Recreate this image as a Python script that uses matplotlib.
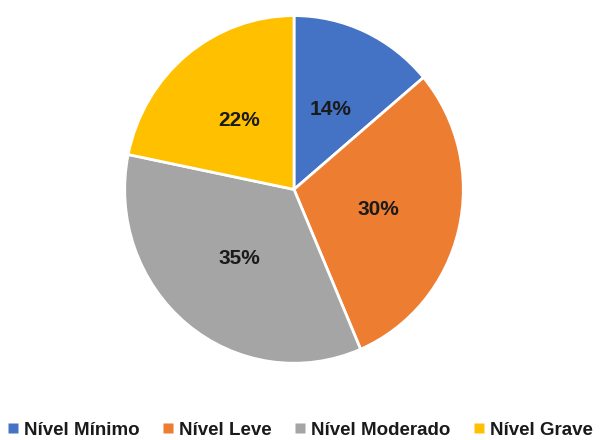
import matplotlib.pyplot as plt
from matplotlib.lines import Line2D

# Dados do gráfico
categorias = ['Nível Mínimo', 'Nível Leve', 'Nível Moderado', 'Nível Grave']
valores = [14, 30, 35, 22]
cores = ['#4472C4', '#ED7D31', '#A5A5A5', '#FFC000']

plt.rcParams['font.family'] = ['Liberation Sans', 'DejaVu Sans']

fig = plt.figure(figsize=(6, 4.4), dpi=100)
ax = fig.add_axes([0.205, 0.1705, 0.57, 0.798])

wedges, textos = ax.pie(valores, colors=cores, startangle=90, counterclock=False,
                        labels=[f'{v}%' for v in valores], labeldistance=0.51,
                        wedgeprops=dict(edgecolor='white', linewidth=2),
                        textprops=dict(fontsize=15, fontweight='bold', color='#1a1a1a',
                                       ha='center', va='center'))
ax.set_xlim(-1.01, 1.01)
ax.set_ylim(-1.01, 1.01)
ax.set_aspect('auto')

# Legenda com marcadores quadrados
handles = [Line2D([0], [0], marker='s', color='none', markerfacecolor=c,
                  markeredgecolor='none', markersize=7) for c in cores]
fig.legend(handles, categorias, loc='lower center', bbox_to_anchor=(0.5, -0.035),
           ncol=4, frameon=False, handlelength=0.6, handletextpad=0.3,
           columnspacing=1.2, prop=dict(size=13.5, weight='bold'), labelcolor='#1a1a1a')

fig.savefig('out.png', dpi=100)
